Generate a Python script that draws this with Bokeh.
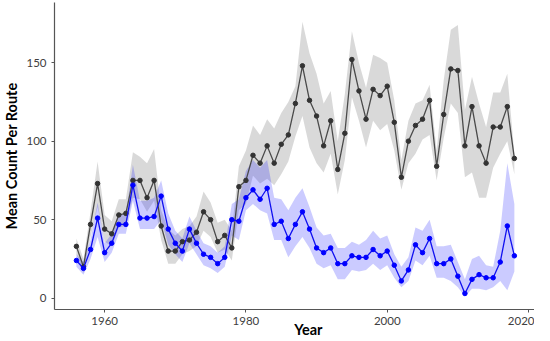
from bokeh.plotting import figure
from bokeh.models import Range1d, FixedTicker, ColumnDataSource
from bokeh.embed import file_html
from bokeh.resources import INLINE

years = [1956, 1957, 1958, 1959, 1960, 1961, 1962, 1963, 1964, 1965,
         1966, 1967, 1968, 1969, 1970, 1971, 1972, 1973, 1974, 1975,
         1976, 1977, 1978, 1979, 1980, 1981, 1982, 1983, 1984, 1985,
         1986, 1987, 1988, 1989, 1990, 1991, 1992, 1993, 1994, 1995,
         1996, 1997, 1998, 1999, 2000, 2001, 2002, 2003, 2004, 2005,
         2006, 2007, 2008, 2009, 2010, 2011, 2012, 2013, 2014, 2015,
         2016, 2017, 2018]

gray_mean = [33, 20, 47, 73, 44, 41, 53, 54, 75, 75,
             64, 75, 46, 30, 30, 36, 37, 42, 55, 50,
             36, 40, 32, 71, 75, 91, 86, 97, 86, 98,
             104, 124, 148, 126, 116, 97, 113, 82, 105, 152,
             132, 114, 133, 129, 135, 112, 77, 100, 110, 114,
             126, 84, 117, 146, 145, 97, 122, 97, 86, 109,
             109, 122, 89]
gray_lower = [28, 16, 39, 58, 36, 33, 45, 46, 64, 63,
              55, 62, 37, 22, 22, 28, 30, 33, 43, 39,
              29, 31, 24, 56, 60, 78, 73, 76, 72, 79,
              87, 103, 116, 96, 86, 80, 92, 66, 88, 128,
              113, 96, 113, 107, 111, 94, 69, 86, 92, 101,
              104, 75, 102, 124, 118, 77, 80, 64, 64, 83,
              92, 100, 79]
gray_upper = [38, 25, 55, 87, 53, 49, 63, 63, 93, 90,
              86, 95, 56, 44, 40, 44, 46, 52, 68, 61,
              48, 50, 43, 84, 94, 110, 104, 114, 108, 118,
              125, 135, 176, 156, 143, 124, 132, 100, 130, 170,
              150, 134, 155, 153, 150, 126, 88, 113, 124, 126,
              136, 94, 139, 171, 174, 120, 141, 124, 109, 131,
              131, 143, 92]

blue_mean = [24, 19, 31, 51, 29, 35, 47, 47, 72, 51,
             51, 52, 65, 44, 35, 30, 44, 35, 28, 26,
             22, 26, 50, 49, 64, 69, 63, 70, 47, 49,
             38, 47, 55, 44, 32, 29, 32, 22, 22, 27,
             26, 26, 31, 27, 30, 21, 11, 18, 34, 29,
             38, 22, 22, 25, 14, 3, 12, 15, 13, 13,
             23, 46, 27]
blue_lower = [20, 15, 25, 39, 23, 29, 41, 41, 62, 44,
              44, 44, 50, 34, 28, 23, 35, 28, 21, 19,
              16, 20, 40, 37, 56, 60, 56, 54, 37, 37,
              26, 33, 39, 32, 22, 19, 21, 12, 12, 18,
              17, 18, 22, 18, 21, 13, 7, 11, 24, 21,
              27, 13, 13, 11, 7, 1, 6, 6, 5, 7,
              11, 5, 17]
blue_upper = [28, 23, 37, 61, 35, 41, 54, 53, 85, 62,
              62, 64, 75, 54, 43, 38, 52, 43, 35, 33,
              29, 33, 60, 63, 81, 88, 83, 88, 64, 63,
              56, 64, 70, 58, 45, 40, 41, 32, 32, 36,
              34, 37, 43, 38, 40, 28, 20, 26, 45, 43,
              50, 33, 33, 34, 23, 12, 25, 27, 21, 20,
              43, 86, 60]

x_ticks = [1960, 1980, 2000, 2020]
y_ticks = [0, 50, 100, 150]

src = ColumnDataSource(dict(year=years, gm=gray_mean, gl=gray_lower, gu=gray_upper,
                            bm=blue_mean, bl=blue_lower, bu=blue_upper))

FONT = "Lato"

p = figure(width=534, height=340, output_backend="svg", toolbar_location=None,
           x_range=Range1d(1952.9, 2020.85), y_range=Range1d(-7.2, 188.3),
           min_border_left=47, min_border_right=0, min_border_top=2, min_border_bottom=31)
p.outline_line_color = None
p.grid.visible = False
p.background_fill_color = "white"
p.border_fill_color = "white"

p.varea(x="year", y1="gl", y2="gu", source=src, fill_color="#000000", fill_alpha=0.15)
p.varea(x="year", y1="bl", y2="bu", source=src, fill_color="#2020ff", fill_alpha=0.23)
p.line(x="year", y="gm", source=src, line_color="#4a4a4a", line_width=1.3)
p.scatter(x="year", y="gm", source=src, size=4.5, fill_color="#333333", line_color="#333333")
p.line(x="year", y="bm", source=src, line_color="#1010f0", line_width=1.3)
p.scatter(x="year", y="bm", source=src, size=4.5, fill_color="#0000ff", line_color="#0000ff")

for ax in (p.xaxis[0], p.yaxis[0]):
    ax.axis_line_color = "#555555"
    ax.axis_line_width = 1.2
    ax.major_tick_line_color = "#555555"
    ax.major_tick_out = 3
    ax.major_tick_in = 0
    ax.minor_tick_line_color = None
    ax.major_label_text_font = FONT
    ax.major_label_text_font_size = "11.5px"
    ax.major_label_text_color = "#404040"
    ax.axis_label_text_font = FONT
    ax.axis_label_text_font_style = "bold"
    ax.axis_label_text_font_size = "14.5px"
    ax.axis_label_text_color = "#000000"

p.xaxis.ticker = FixedTicker(ticks=x_ticks)
p.yaxis.ticker = FixedTicker(ticks=y_ticks)
p.xaxis.major_label_standoff = 4
p.yaxis.major_label_standoff = 5

p.yaxis.axis_label = "Mean Count Per Route"
p.yaxis.axis_label_standoff = 3

p.xaxis.axis_label = "\u00a0" * 8 + "Year"
p.xaxis.axis_label_standoff = -7

open("out.html", "w").write(file_html(p, INLINE))
